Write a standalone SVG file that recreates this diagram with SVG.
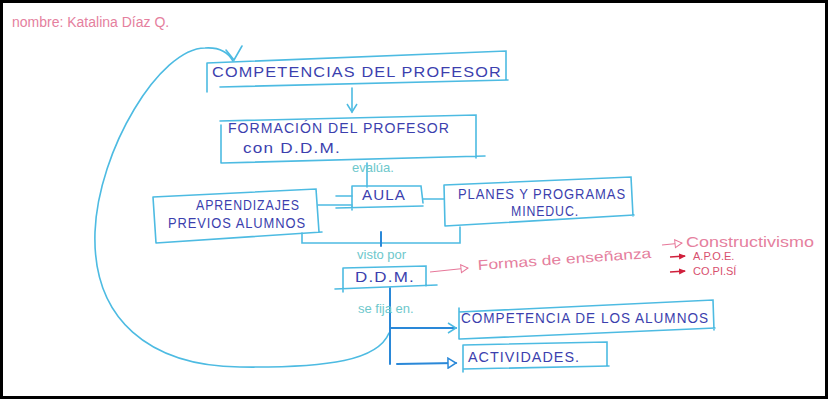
<svg xmlns="http://www.w3.org/2000/svg" width="830" height="402" viewBox="0 0 830 402">
<defs>
<style>
.box{fill:none;stroke:#4dbbe2;stroke-width:1.6;stroke-linecap:round}
.t{font-family:"Liberation Sans",Arial,sans-serif;fill:#3c3fae;font-size:14px;letter-spacing:1px}
.lbl{font-family:"Liberation Sans",Arial,sans-serif;fill:#6ec8cc;font-size:13px}
.pk{font-family:"Liberation Sans",Arial,sans-serif;fill:#e5809e;font-size:14px}
.rd{font-family:"Liberation Sans",Arial,sans-serif;fill:#d8506e;font-size:11px}
.c{fill:none;stroke:#4dbbe2;stroke-width:1.6;stroke-linecap:round}
.cd{fill:none;stroke:#2a88d8;stroke-width:2;stroke-linecap:round}
.pl{fill:none;stroke:#e7789a;stroke-width:1.2}
.rl{fill:none;stroke:#d0203c;stroke-width:1.6}
</style>
<marker id="ap" markerWidth="10" markerHeight="10" refX="8" refY="5" orient="auto" markerUnits="userSpaceOnUse">
<path d="M1,1 L8,5 L1,9 Z" fill="#fff" stroke="#e7789a" stroke-width="1"/>
</marker>
<marker id="ar" markerWidth="8" markerHeight="8" refX="6" refY="4" orient="auto" markerUnits="userSpaceOnUse">
<path d="M0,1 L7,4 L0,7 Z" fill="#d0203c"/>
</marker>
<marker id="ab" markerWidth="12" markerHeight="12" refX="9" refY="6" orient="auto" markerUnits="userSpaceOnUse">
<path d="M1,1 L9,6 L1,11" fill="none" stroke="#4dbbe2" stroke-width="1.5"/>
</marker>
<marker id="ad" markerWidth="12" markerHeight="12" refX="9" refY="6" orient="auto" markerUnits="userSpaceOnUse">
<path d="M1,1 L9,6 L1,11 Z" fill="#fff" stroke="#2a88d8" stroke-width="1.5"/>
</marker>
</defs>
<rect x="0" y="0" width="830" height="402" fill="#ffffff"/>
<rect x="1.5" y="1.5" width="825" height="396" fill="none" stroke="#000" stroke-width="3"/>

<text x="12" y="27" class="pk" font-size="15">nombre: Katalina Díaz Q.</text>

<g id="connectors">
<path class="c" d="M389,333 C378,360 330,368 240,367 C150,366 92,320 95,232 C98,150 160,48 205,48 C220,47 228,52 233,61"/>
<path class="c" d="M226,50 L234,60 L242,46"/>
<path class="c" d="M352,88 L352,112" marker-end="url(#ab)"/>
<path class="c" d="M367,163 L367,187"/>
<path class="c" d="M318,205 L352,205 M336,196 L352,196"/>
<path class="c" d="M423,199 L444,199"/>
<path class="c" d="M302,233 L302,243 L460,243 L460,227"/>
<path class="cd" d="M381,232 L381,246"/>
<path class="cd" d="M390,288 L390,364"/>
<path class="cd" d="M390,328 L456,328" marker-end="url(#ab)"/>
<path class="cd" d="M397,364 L456,363" marker-end="url(#ad)"/>
<path class="pl" d="M430,272 L468,268" marker-end="url(#ap)"/>
<path class="pl" d="M662,245 L682,243" marker-end="url(#ap)"/>
<path class="rl" d="M670,257 L685,256" marker-end="url(#ar)"/>
<path class="rl" d="M670,272 L685,271" marker-end="url(#ar)"/>
</g>

<g id="n-competencias-profesor">
<path class="box" d="M207,63 L506,51 L506,80 M220,87 L508,80 M207,63 L207,92"/>
<text class="t" x="212" y="77" font-size="19" textLength="290" lengthAdjust="spacingAndGlyphs">COMPETENCIAS DEL PROFESOR</text>
</g>

<g id="n-formacion">
<path class="box" d="M220,121 L476,115 L476,158 M222,163 L485,156 M221,125 L221,163"/>
<text class="t" x="228" y="133" textLength="222" lengthAdjust="spacingAndGlyphs">FORMACIÓN DEL PROFESOR</text>
<text class="t" x="243" y="153" textLength="98" lengthAdjust="spacingAndGlyphs">con  D.D.M.</text>
</g>

<text class="lbl" x="352" y="172" font-size="14">evalúa.</text>

<g id="n-aula">
<path class="box" d="M352,186 L421,186 L423,203 M352,186 L352,210 M336,208 L423,206"/>
<text class="t" x="362" y="200" textLength="44" lengthAdjust="spacingAndGlyphs">AULA</text>
</g>

<g id="n-aprendizajes">
<path class="box" d="M153,197 L316,189 L319,232 M156,243 L322,232 M153,197 L156,243"/>
<text class="t" x="196" y="210" textLength="104" lengthAdjust="spacingAndGlyphs">APRENDIZAJES</text>
<text class="t" x="168" y="228" textLength="138" lengthAdjust="spacingAndGlyphs">PREVIOS ALUMNOS</text>
</g>

<g id="n-planes">
<path class="box" d="M444,185 L631,177 L633,216 M445,226 L634,215 M444,185 L445,226"/>
<text class="t" x="458" y="199" textLength="168" lengthAdjust="spacingAndGlyphs">PLANES Y PROGRAMAS</text>
<text class="t" x="511" y="216" textLength="68" lengthAdjust="spacingAndGlyphs">MINEDUC.</text>
</g>

<text class="lbl" x="357" y="259" font-size="14">visto por</text>

<g id="n-ddm">
<path class="box" d="M343,268 L426,266 L426,286 M343,268 L343,292 M335,289 L437,285"/>
<text class="t" x="355" y="282" textLength="60" lengthAdjust="spacingAndGlyphs">D.D.M.</text>
</g>

<text class="lbl" x="358" y="313" font-size="13">se fija en.</text>

<g id="n-formas">
<text class="pk" x="478" y="270" transform="rotate(-4 478 270)" textLength="174" lengthAdjust="spacingAndGlyphs">Formas de enseñanza</text>
<text class="pk" x="686" y="247" font-size="14" textLength="128" lengthAdjust="spacingAndGlyphs">Constructivismo</text>
<text class="rd" x="693" y="260">A.P.O.E.</text>
<text class="rd" x="693" y="275">CO.PI.SÍ</text>
</g>

<g id="n-competencia-alumnos">
<path class="box" d="M459,312 L713,300 L714,330 M460,339 L715,328 M459,308 L459,339"/>
<text class="t" x="461" y="323" textLength="248" lengthAdjust="spacingAndGlyphs">COMPETENCIA DE LOS ALUMNOS</text>
</g>

<g id="n-actividades">
<path class="box" d="M463,345 L607,342 L607,366 M463,369 L609,366 M463,345 L463,372"/>
<text class="t" x="468" y="362" textLength="112" lengthAdjust="spacingAndGlyphs">ACTIVIDADES.</text>
</g>
</svg>
